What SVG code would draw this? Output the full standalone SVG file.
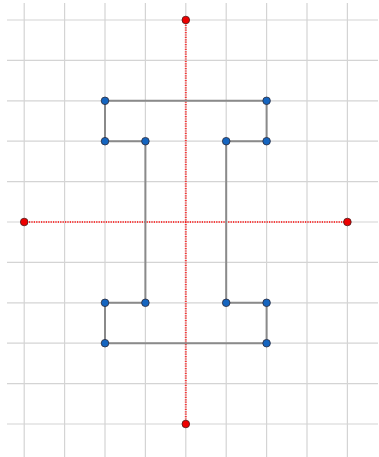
<svg xmlns="http://www.w3.org/2000/svg" width="379" height="457" viewBox="0 0 379 457">
<style>
.grid line{stroke:#d4d4d4;stroke-width:1.2}
.axis{stroke:#ff0000;stroke-opacity:0.75;stroke-width:2;stroke-dasharray:1.2 1.2;fill:none}
.edge{stroke:#8a8a8a;stroke-width:2;fill:none;stroke-linejoin:round}
.bp{fill:#1565c0;stroke:#2a2a3a;stroke-width:0.8}
.rp{fill:#ee0000;stroke:#4a1a1a;stroke-width:0.8}
</style>
<rect width="379" height="457" fill="#ffffff"/>
<g class="grid" id="grid">
<line x1="24.2" y1="3" x2="24.2" y2="457"/>
<line x1="64.6" y1="3" x2="64.6" y2="457"/>
<line x1="105" y1="3" x2="105" y2="457"/>
<line x1="145.4" y1="3" x2="145.4" y2="457"/>
<line x1="185.8" y1="3" x2="185.8" y2="457"/>
<line x1="226.2" y1="3" x2="226.2" y2="457"/>
<line x1="266.6" y1="3" x2="266.6" y2="457"/>
<line x1="307" y1="3" x2="307" y2="457"/>
<line x1="347.4" y1="3" x2="347.4" y2="457"/>
<line x1="7" y1="20" x2="378" y2="20"/>
<line x1="7" y1="60.4" x2="378" y2="60.4"/>
<line x1="7" y1="100.8" x2="378" y2="100.8"/>
<line x1="7" y1="141.2" x2="378" y2="141.2"/>
<line x1="7" y1="181.6" x2="378" y2="181.6"/>
<line x1="7" y1="222" x2="378" y2="222"/>
<line x1="7" y1="262.4" x2="378" y2="262.4"/>
<line x1="7" y1="302.8" x2="378" y2="302.8"/>
<line x1="7" y1="343.2" x2="378" y2="343.2"/>
<line x1="7" y1="383.6" x2="378" y2="383.6"/>
<line x1="7" y1="424" x2="378" y2="424"/>
</g>
<g id="connectors">
<line class="axis" x1="185.8" y1="20" x2="185.8" y2="424"/>
<line class="axis" x1="24.2" y1="222" x2="347.4" y2="222"/>
<polygon class="edge" points="105,100.8 266.6,100.8 266.6,141.2 226.2,141.2 226.2,302.8 266.6,302.8 266.6,343.2 105,343.2 105,302.8 145.4,302.8 145.4,141.2 105,141.2"/>
</g>
<g id="axis-points">
<circle id="p-top" class="rp" cx="185.8" cy="20" r="3.8"/>
<circle id="p-bottom" class="rp" cx="185.8" cy="424" r="3.8"/>
<circle id="p-left" class="rp" cx="24.2" cy="222" r="3.8"/>
<circle id="p-right" class="rp" cx="347.4" cy="222" r="3.8"/>
</g>
<g id="shape-points">
<circle id="v1" class="bp" cx="105" cy="100.8" r="3.8"/>
<circle id="v2" class="bp" cx="266.6" cy="100.8" r="3.8"/>
<circle id="v3" class="bp" cx="266.6" cy="141.2" r="3.8"/>
<circle id="v4" class="bp" cx="226.2" cy="141.2" r="3.8"/>
<circle id="v5" class="bp" cx="226.2" cy="302.8" r="3.8"/>
<circle id="v6" class="bp" cx="266.6" cy="302.8" r="3.8"/>
<circle id="v7" class="bp" cx="266.6" cy="343.2" r="3.8"/>
<circle id="v8" class="bp" cx="105" cy="343.2" r="3.8"/>
<circle id="v9" class="bp" cx="105" cy="302.8" r="3.8"/>
<circle id="v10" class="bp" cx="145.4" cy="302.8" r="3.8"/>
<circle id="v11" class="bp" cx="145.4" cy="141.2" r="3.8"/>
<circle id="v12" class="bp" cx="105" cy="141.2" r="3.8"/>
</g>
</svg>
